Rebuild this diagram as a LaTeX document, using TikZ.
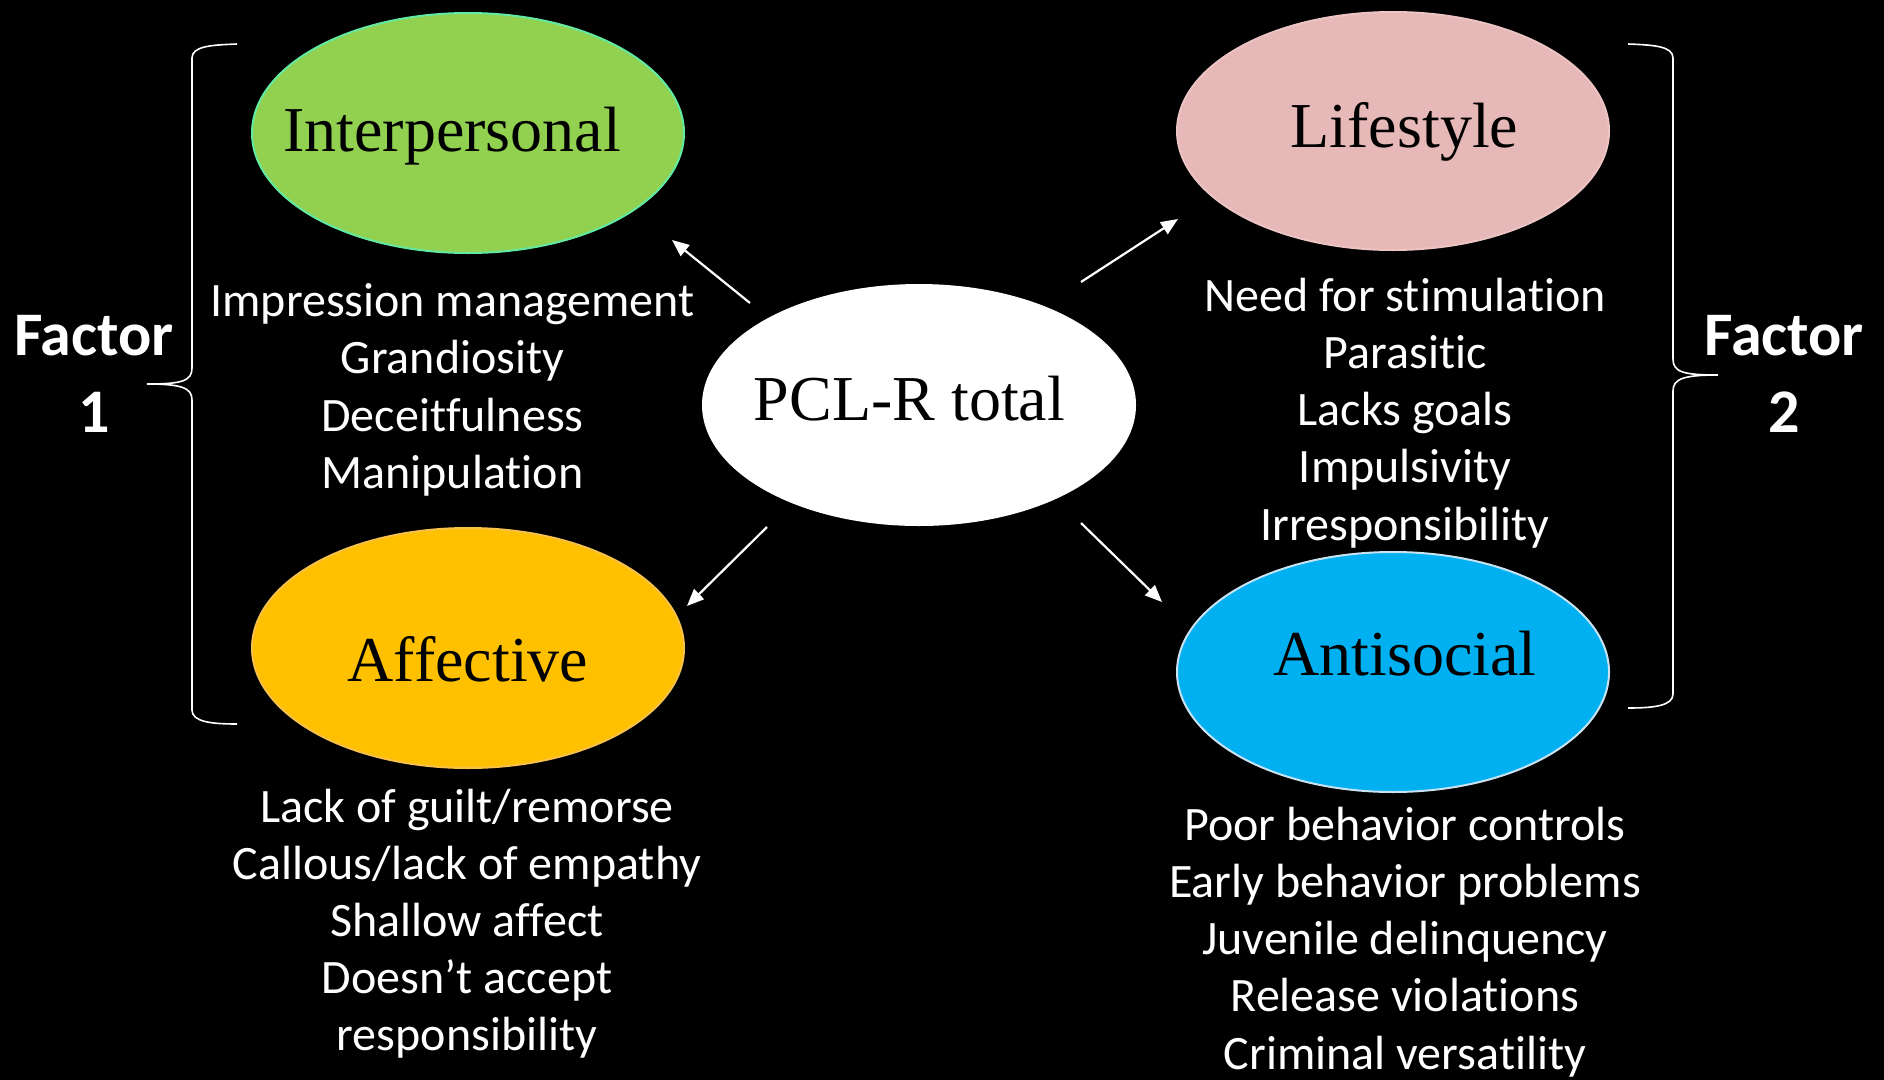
\documentclass[tikz,border=0pt]{standalone}
\usepackage{fontspec}
\usetikzlibrary{arrows.meta,shapes.geometric}
\newfontfamily\bodyfont{Carlito}[Ligatures=NoCommon]
\newfontfamily\titlefont{Liberation Serif}
\definecolor{intergreen}{HTML}{92D050}
\definecolor{interedge}{HTML}{62EAA2}
\definecolor{lifepink}{HTML}{E6B8B7}
\definecolor{lifeedge}{HTML}{EBC4C3}
\definecolor{affgold}{HTML}{FFC000}
\definecolor{affedge}{HTML}{F7C14A}
\definecolor{antiblue}{HTML}{00B0F0}
\definecolor{antiedge}{HTML}{C8E2F2}
\begin{document}
\begin{tikzpicture}[x=1pt,y=-1pt,
  factor/.style={ellipse, inner sep=0pt, outer sep=0pt, line width=2pt,
                 minimum width=432pt, minimum height=240pt},
  ftitle/.style={anchor=base, inner sep=0pt, text=black,
                 font=\titlefont\fontsize{64}{70}\selectfont},
  item/.style={anchor=base, inner sep=0pt, text=white,
               font=\bodyfont\fontsize{48}{57}\selectfont},
  flabel/.style={anchor=base, inner sep=0pt, text=white,
                 font=\bodyfont\bfseries\fontsize{62}{68}\selectfont},
  link/.style={draw=white, line width=2.2pt,
               -{Triangle[length=17pt,width=14pt]}},
  brace/.style={draw=white, line width=1.6pt}
]
% page frame first, then a background slightly larger so no edge shows
\useasboundingbox (0,0) rectangle (1884,1079);
\fill[black] (-6,-6) rectangle (1890,1085);

% the five ellipses
\node[factor, fill=intergreen, draw=interedge] (inter) at (468,133) {};
\node[factor, fill=lifepink, draw=lifeedge, minimum height=238pt] (life) at (1393,131) {};
\node[factor, fill=white, draw=white] (pcl) at (919,405) {};
\node[factor, fill=affgold, draw=affedge] (aff) at (468,648) {};
\node[factor, fill=antiblue, draw=antiedge] (anti) at (1393,672) {};

% ellipse titles
\node[ftitle] (inter-t) at (452,151) {Interpersonal};
\node[ftitle] (life-t) at (1404.5,147) {Lifestyle};
\node[ftitle] (pcl-t) at (909.5,420) {PCL-R total};
\node[ftitle] (aff-t) at (468,681) {Affective};
\node[ftitle] (anti-t) at (1405,675) {Antisocial};

% arrows from the total score to the four facets
\coordinate (a1s) at (750,303); \coordinate (a1e) at (672,240);
\coordinate (a2s) at (1081,282); \coordinate (a2e) at (1178,219);
\coordinate (a3s) at (767,527); \coordinate (a3e) at (687,606);
\coordinate (a4s) at (1081,523); \coordinate (a4e) at (1162,602);
\draw[link] (a1s) -- (a1e);
\draw[link] (a2s) -- (a2e);
\draw[link] (a3s) -- (a3e);
\draw[link] (a4s) -- (a4e);

% item lists
\foreach \txt [count=\k] in {Impression management, Grandiosity, Deceitfulness, Manipulation}
  \node[item] (ip\k) at (452.5,{316+57.5*(\k-1)}) {\txt};
\foreach \txt [count=\k] in {Lack of guilt/remorse, Callous/lack of empathy, Shallow affect, Doesn’t accept, responsibility}
  \node[item] (af\k) at (467,{822+57*(\k-1)}) {\txt};
\foreach \txt [count=\k] in {Need for stimulation, Parasitic, Lacks goals, Impulsivity, Irresponsibility}
  \node[item] (ls\k) at (1405,{311+57.25*(\k-1)}) {\txt};
\foreach \txt [count=\k] in {Poor behavior controls, Early behavior problems, Juvenile delinquency, Release violations, Criminal versatility}
  \node[item] (as\k) at (1405,{840+57.25*(\k-1)}) {\txt};

% factor braces
\draw[brace] (237,44) .. controls (212,45) and (192,46) .. (192,58) -- (192,368)
  .. controls (192,381) and (182,384) .. (147,384)
  .. controls (182,384) and (192,388) .. (192,400) -- (192,710)
  .. controls (192,722) and (212,724) .. (237,724);
\draw[brace] (1628,44) .. controls (1653,45) and (1673,46) .. (1673,58) -- (1673,359)
  .. controls (1673,372) and (1683,375) .. (1718,375)
  .. controls (1683,375) and (1673,379) .. (1673,391) -- (1673,694)
  .. controls (1673,706) and (1653,708) .. (1628,708);

% factor labels
\node[flabel] (f1a) at (94,355) {Factor};
\node[flabel] (f1b) at (94,432) {1};
\node[flabel] (f2a) at (1784,355) {Factor};
\node[flabel] (f2b) at (1784,432) {2};
\end{tikzpicture}
\end{document}
